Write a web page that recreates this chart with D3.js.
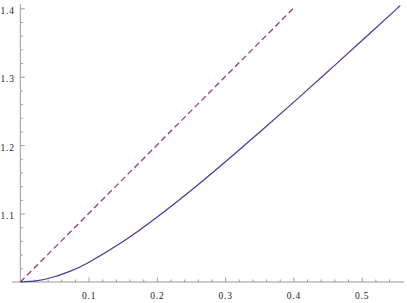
<!DOCTYPE html>
<html>
<head>
<meta charset="utf-8">
<script src="https://cdn.jsdelivr.net/npm/d3@7"></script>
<style>
  html, body { margin: 0; padding: 0; background: #fff; }
  svg { display: block; }
</style>
</head>
<body>
<svg id="chart" width="407" height="303"></svg>
<script>
// ---- data ----
const curveX = [0, 0.025, 0.05, 0.075, 0.1, 0.15, 0.2, 0.25, 0.3, 0.35, 0.4, 0.45, 0.5, 0.55, 0.552];
const curveY = [1.0000, 1.0020, 1.0077, 1.0167, 1.0286, 1.0587, 1.0945, 1.1338, 1.1754, 1.2185, 1.2625, 1.3072, 1.3525, 1.3981, 1.4000];
const dashX = [0, 0.4];
const dashY = [1.0, 1.4];
const xTicks = [0.1, 0.2, 0.3, 0.4, 0.5];
const xTickLabels = ["0.1", "0.2", "0.3", "0.4", "0.5"];
const yTicks = [1.1, 1.2, 1.3, 1.4];
const yTickLabels = ["1.1", "1.2", "1.3", "1.4"];
const xMinor = [0.02,0.04,0.06,0.08,0.12,0.14,0.16,0.18,0.22,0.24,0.26,0.28,0.32,0.34,0.36,0.38,0.42,0.44,0.46,0.48,0.52,0.54];
const yMinor = [1.02,1.04,1.06,1.08,1.12,1.14,1.16,1.18,1.22,1.24,1.26,1.28,1.32,1.34,1.36,1.38];

// ---- scales ----
const x = d3.scaleLinear().domain([0, 0.5]).range([20.3, 361.7]);
const y = d3.scaleLinear().domain([1.0, 1.4]).range([282, 8.3]);

const svg = d3.select("#chart");
const axisColor = "#999";
const fontCss = "font-family:'Liberation Serif','Times New Roman',serif;font-size:9.5px;letter-spacing:0.8px;fill:#222";

// axis lines
svg.append("line").attr("x1", 12).attr("x2", 404).attr("y1", y(1)).attr("y2", y(1))
  .attr("stroke", axisColor).attr("stroke-width", 1);
svg.append("line").attr("x1", x(0)).attr("x2", x(0)).attr("y1", 4).attr("y2", y(1))
  .attr("stroke", axisColor).attr("stroke-width", 1);

// x axis major + labels
const xAxis = d3.axisBottom(x).tickValues(xTicks).tickFormat((d, i) => xTickLabels[i])
  .tickSizeInner(-4.5).tickSizeOuter(0).tickPadding(10);
const gx = svg.append("g").attr("transform", `translate(0,${y(1)})`).call(xAxis);
gx.select(".domain").remove();
gx.selectAll("line").attr("stroke", axisColor);
gx.selectAll("text").attr("style", fontCss);

const gxm = svg.append("g").attr("transform", `translate(0,${y(1)})`)
  .call(d3.axisBottom(x).tickValues(xMinor).tickSizeInner(-2.5).tickSizeOuter(0).tickFormat(""));
gxm.select(".domain").remove();
gxm.selectAll("line").attr("stroke", axisColor);

// y axis major + labels
const yAxis = d3.axisLeft(y).tickValues(yTicks).tickFormat((d, i) => yTickLabels[i])
  .tickSizeInner(-4.5).tickSizeOuter(0).tickPadding(5.5);
const gy = svg.append("g").attr("transform", `translate(${x(0)},0)`).call(yAxis);
gy.select(".domain").remove();
gy.selectAll("line").attr("stroke", axisColor);
gy.selectAll("text").attr("style", fontCss).attr("dy", "0.55em");

const gym = svg.append("g").attr("transform", `translate(${x(0)},0)`)
  .call(d3.axisLeft(y).tickValues(yMinor).tickSizeInner(-2.5).tickSizeOuter(0).tickFormat(""));
gym.select(".domain").remove();
gym.selectAll("line").attr("stroke", axisColor);

// curves
const straight = d3.line().x(d => x(d[0])).y(d => y(d[1]));
const smooth = d3.line().x(d => x(d[0])).y(d => y(d[1])).curve(d3.curveNatural);

svg.append("path")
  .datum(dashX.map((v, i) => [v, dashY[i]]))
  .attr("d", straight)
  .attr("fill", "none")
  .attr("stroke", "#993d74")
  .attr("stroke-width", 1.3)
  .attr("stroke-dasharray", "6,3.5");

svg.append("path")
  .datum(curveX.map((v, i) => [v, curveY[i]]))
  .attr("d", smooth)
  .attr("fill", "none")
  .attr("stroke", "#3d3d99")
  .attr("stroke-width", 1.2);
</script>
</body>
</html>
